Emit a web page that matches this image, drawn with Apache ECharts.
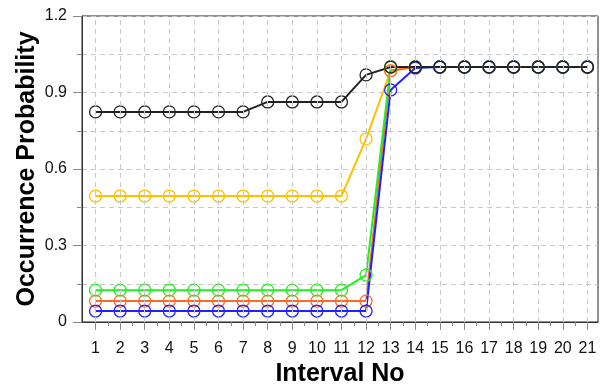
<!DOCTYPE html>
<html>
<head>
<meta charset="utf-8">
<script src="https://cdn.jsdelivr.net/npm/echarts@6/dist/echarts.min.js"></script>
<style>
html,body{margin:0;padding:0;background:#fff;}
#c{width:603px;height:387px;}
</style>
</head>
<body>
<div id="c"></div>
<script>
const intervals = [1,2,3,4,5,6,7,8,9,10,11,12,13,14,15,16,17,18,19,20,21];
const minorTicks = [1.5,2.5,3.5,4.5,5.5,6.5,7.5,8.5,9.5,10.5,11.5,12.5,13.5,14.5,15.5,16.5,17.5,18.5,19.5,20.5];
const yellowVals = [0.494,0.494,0.494,0.494,0.494,0.494,0.494,0.494,0.494,0.494,0.494,0.718,0.985,1,1,1,1,1,1,1,1];
const orangeVals = [0.082,0.082,0.082,0.082,0.082,0.082,0.082,0.082,0.082,0.082,0.082,0.082,0.985,1,1,1,1,1,1,1,1];
const greenVals  = [0.125,0.125,0.125,0.125,0.125,0.125,0.125,0.125,0.125,0.125,0.125,0.184,1,1,1,1,1,1,1,1,1];
const blueVals   = [0.043,0.043,0.043,0.043,0.043,0.043,0.043,0.043,0.043,0.043,0.043,0.043,0.910,0.996,1,1,1,1,1,1,1];
const blackVals  = [0.824,0.824,0.824,0.824,0.824,0.824,0.824,0.863,0.863,0.863,0.863,0.969,1,1,1,1,1,1,1,1,1];
const yTicks = ['0','0.3','0.6','0.9','1.2'];

function pairs(vals){ return intervals.map((x,i)=>[x, vals[i]]); }
function ser(name, vals, color){
  return {
    name, type:'line', data:pairs(vals), xAxisIndex:0, yAxisIndex:0,
    symbol:'circle', symbolSize:12, showSymbol:true,
    lineStyle:{color, width:2},
    itemStyle:{color:'rgba(255,255,255,0)', borderColor:color, borderWidth:1.3},
    emphasis:{disabled:true}, animation:false, z:3
  };
}
const font = 'Liberation Sans, Arial, sans-serif';
const gridColor = '#c8c8c8';
const dashed = {show:true, lineStyle:{color:gridColor, type:[5,4], width:1}};
const chart = echarts.init(document.getElementById('c'), null, {renderer:'canvas'});
chart.setOption({
  animation:false,
  grid: {left:82, right:5, top:16, bottom:65, show:true, borderColor:'#222', borderWidth:1,
         backgroundColor:'#fff', containLabel:false, outerBoundsMode:'none'},
  xAxis: [{
    type:'value', min:0.45, max:21.43,
    name:'Interval No', nameLocation:'middle', nameGap:40,
    nameTextStyle:{fontFamily:font, fontSize:25, fontWeight:'bold', color:'#000'},
    axisLine:{show:true, onZero:false, lineStyle:{color:'#333', width:1}},
    axisTick:{show:true, length:8, customValues:intervals, lineStyle:{color:'#888'}},
    axisLabel:{customValues:intervals, margin:19, fontFamily:font, fontSize:16, color:'#111'},
    splitLine:{show:false}
  },{
    type:'value', min:0.45, max:21.43, position:'bottom',
    axisLine:{show:false},
    axisTick:{show:true, length:4, customValues:minorTicks, lineStyle:{color:'#888'}},
    axisLabel:{show:false},
    splitLine:{show:false}
  }],
  yAxis: [{
    type:'value', min:0, max:1.2, interval:0.3,
    name:'Occurrence Probability', nameLocation:'middle', nameGap:42, nameMoveOverlap:false,
    nameTextStyle:{fontFamily:font, fontSize:25, fontWeight:'bold', color:'#000'},
    axisLine:{show:true, lineStyle:{color:'#333', width:1}},
    axisTick:{show:true, length:9, lineStyle:{color:'#888'}},
    minorTick:{show:true, splitNumber:2, length:5, lineStyle:{color:'#888'}},
    axisLabel:{margin:15, fontFamily:font, fontSize:16, color:'#111',
      formatter:function(v){ const i=Math.round(v/0.3); return yTicks[i]!==undefined?yTicks[i]:''; }},
    splitLine:dashed,
    minorSplitLine:dashed
  }],
  series:[
    {
      name:'vgrid', type:'line', data:[], xAxisIndex:0, yAxisIndex:0, z:1, silent:true,
      markLine:{
        silent:true, symbol:['none','none'], label:{show:false}, animation:false,
        lineStyle:{color:gridColor, type:[5,4], width:1},
        emphasis:{disabled:true},
        data: intervals.map(v=>({xAxis:v}))
      }
    },
    ser('yellow', yellowVals, '#ffc000'),
    ser('orange', orangeVals, '#fa6b2a'),
    ser('green', greenVals, '#22ee22'),
    ser('blue', blueVals, '#2222ff'),
    ser('black', blackVals, '#222222')
  ]
});
</script>
</body>
</html>
